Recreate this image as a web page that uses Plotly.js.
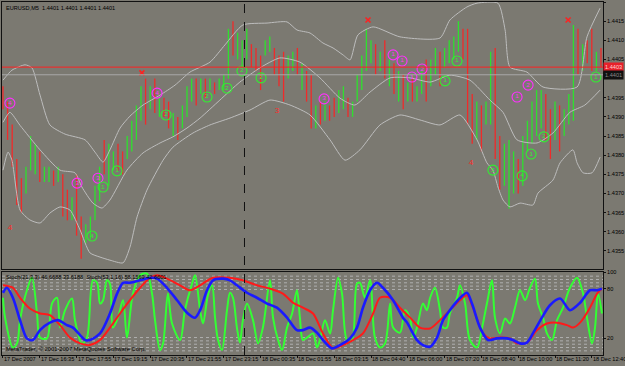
<!DOCTYPE html>
<html><head><meta charset="utf-8">
<script src="https://cdn.plot.ly/plotly-3.0.1.min.js"></script>
<style>html,body{margin:0;padding:0;background:#7a7870;}#chart{width:625px;height:366px;}</style>
</head><body><div id="chart"></div>
<script>
// ---- price bars (every second M5 bar) ----
const barIdx = [0,2,4,6,8,10,12,14,16,18,20,22,24,26,28,30,32,34,36,38,40,42,44,46,48,50,52,54,56,58,60,62,64,66,68,70,72,74,76,78,80,82,84,86,88,90,92,94,96,98,100,102,104,106,108,110,112,114,116,118,120,122,124,126,128,130,132,134,136,138,140,142,144,146,148,150,152,154,156,158,160,162,164,166,168,170,172,174,176,178,180,182,184,186,188,190,192,194,196,198,200,202,204,206,208,210,212,214,216,218,220,222,224,226,228,230,232,234,236,238,240,242,244,246,248,250,252,254,256,258,260];
const barHigh = [1.4398,1.4394,1.4388,1.4379,1.4374,1.4377,1.4385,1.4383,1.4381,1.4377,1.4377,1.4376,1.4377,1.4375,1.4371,1.4369,1.4375,1.4364,1.4362,1.4364,1.4372,1.4377,1.4384,1.4383,1.4381,1.4383,1.4381,1.4385,1.4389,1.4393,1.4398,1.4400,1.4398,1.4400,1.4395,1.4395,1.4394,1.4391,1.4390,1.4393,1.4398,1.4400,1.4400,1.4400,1.4400,1.4400,1.4399,1.4400,1.4401,1.4413,1.4415,1.4412,1.4410,1.4413,1.4409,1.4408,1.4406,1.4410,1.4411,1.4408,1.4406,1.4407,1.4406,1.4407,1.4408,1.4404,1.4402,1.4401,1.4393,1.4394,1.4394,1.4393,1.4395,1.4397,1.4398,1.4395,1.4394,1.4401,1.4406,1.4413,1.4410,1.4409,1.4407,1.4410,1.4405,1.4404,1.4402,1.4401,1.4399,1.4400,1.4398,1.4402,1.4405,1.4405,1.4408,1.4407,1.4408,1.4410,1.4411,1.4415,1.4413,1.4413,1.4396,1.4394,1.4393,1.4394,1.4407,1.4408,1.4385,1.4383,1.4384,1.4381,1.4379,1.4385,1.4389,1.4394,1.4397,1.4397,1.4396,1.4392,1.4394,1.4393,1.4392,1.4396,1.4414,1.4413,1.4409,1.4410,1.4413,1.4407,1.4408];
const barLow = [1.4392,1.4384,1.4377,1.4367,1.4365,1.4370,1.4376,1.4375,1.4373,1.4373,1.4373,1.4372,1.4373,1.4364,1.4363,1.4363,1.4359,1.4353,1.4357,1.4358,1.4363,1.4368,1.4375,1.4372,1.4376,1.4376,1.4375,1.4379,1.4381,1.4384,1.4389,1.4388,1.4392,1.4391,1.4390,1.4390,1.4387,1.4385,1.4384,1.4387,1.4390,1.4394,1.4393,1.4396,1.4395,1.4397,1.4396,1.4397,1.4397,1.4400,1.4406,1.4405,1.4403,1.4405,1.4403,1.4402,1.4397,1.4406,1.4407,1.4401,1.4398,1.4394,1.4400,1.4402,1.4401,1.4397,1.4394,1.4387,1.4387,1.4388,1.4389,1.4389,1.4390,1.4391,1.4392,1.4390,1.4390,1.4394,1.4397,1.4402,1.4404,1.4401,1.4402,1.4400,1.4398,1.4396,1.4394,1.4392,1.4394,1.4394,1.4394,1.4396,1.4394,1.4398,1.4401,1.4398,1.4403,1.4404,1.4405,1.4407,1.4405,1.4388,1.4383,1.4384,1.4381,1.4388,1.4388,1.4379,1.4371,1.4372,1.4366,1.4370,1.4370,1.4372,1.4381,1.4383,1.4385,1.4387,1.4384,1.4379,1.4384,1.4381,1.4385,1.4388,1.4389,1.4401,1.4402,1.4404,1.4402,1.4402,1.4403];
const barUp = [0,0,0,0,0,1,1,1,0,1,1,0,1,0,0,1,0,0,1,1,1,1,0,1,1,0,0,1,1,1,1,0,1,0,1,0,0,1,0,1,1,1,0,1,0,1,0,1,1,1,0,1,1,1,0,0,0,1,1,0,0,0,1,1,0,1,0,0,1,0,1,0,0,1,1,0,1,1,1,1,1,0,1,0,1,0,1,0,1,0,1,1,0,1,1,0,1,1,1,1,0,0,0,1,0,1,1,0,0,1,1,1,0,1,1,1,1,1,0,0,1,0,1,1,1,0,1,0,0,1,0];

// ---- Bollinger bands ----
const upperIdx = [0,3.9,9.6,12.6,16.1,20.4,27,35.7,40,43.5,46.5,50.9,55.2,60.9,68.3,74.8,81.3,90,96.5,104.3,114.8,123.5,127.8,133.5,139.1,143.5,147.8,150.9,154.3,160.9,172.6,190,194.3,201.7,206.1,215.2,218.3,220.4,227.8,234.8,249.6,253.9,259.6];
const upperVal = [1.43996,1.44022,1.44036,1.44028,1.43957,1.43879,1.43855,1.43840,1.43808,1.43782,1.43814,1.43871,1.43902,1.43931,1.43957,1.43983,1.44017,1.44043,1.44088,1.44140,1.44145,1.44148,1.44127,1.44119,1.44093,1.44080,1.44062,1.44049,1.44114,1.44135,1.44109,1.44106,1.44153,1.44187,1.44197,1.44197,1.44127,1.44030,1.44017,1.43978,1.43978,1.44109,1.44184];
const midIdx = [0,3,7.4,16.1,24.8,31.3,34.3,39.1,43,46.5,53.9,60.9,68.3,73.9,80,85.7,94.3,103,111.7,120.4,129.1,137.8,146.5,153,159.6,168.3,177,185.7,194.3,203,211.7,217.4,223.5,232.2,239.1,246.5,253,259.6];
const midVal = [1.43886,1.43912,1.43878,1.43814,1.43761,1.43754,1.43717,1.43675,1.43662,1.43683,1.43761,1.43806,1.43832,1.43848,1.43871,1.43897,1.43944,1.43991,1.44028,1.44054,1.44043,1.44002,1.43949,1.43931,1.43965,1.44002,1.44002,1.43991,1.44009,1.43996,1.43944,1.43912,1.43840,1.43832,1.43858,1.43912,1.43931,1.43970];
const lowerIdx = [0,2.2,3.9,7.4,11.7,16.1,20.4,24.8,29.1,33.5,37.8,42.2,46.5,52.2,55.2,58.3,62.6,69.6,73.9,82.6,90,98.7,107.4,116.1,124.8,133.5,142.2,148.7,155.2,163.9,172.6,181.3,190,198.7,206.1,210.4,213,215.2,217.4,220.4,224.8,230.4,232.6,239.1,242.2,247.8,249.6,252.2,256.1,259.6];
const lowerVal = [1.43761,1.43808,1.43787,1.43657,1.43631,1.43623,1.43649,1.43665,1.43657,1.43605,1.43545,1.43534,1.43526,1.43519,1.43560,1.43639,1.43709,1.43787,1.43821,1.43858,1.43879,1.43897,1.43918,1.43944,1.43931,1.43905,1.43840,1.43787,1.43814,1.43879,1.43905,1.43892,1.43879,1.43905,1.43840,1.43780,1.43761,1.43717,1.43683,1.43665,1.43675,1.43670,1.43701,1.43735,1.43780,1.43814,1.43780,1.43754,1.43754,1.43795];

// ---- indicator signs ----
const magIdx = [3,32.2,41.3,67,139.6,169.6,173.5,177.8,182.2,223.5,228.3];
const magVal = [1.43936,1.43727,1.43740,1.43962,1.43947,1.44062,1.44046,1.44004,1.44025,1.43952,1.43983];
const magTxt = ['4','3','3','4','3','1','1','1','2','1','2'];
const grnIdx = [38.7,43.5,49.6,70.9,88.7,97.4,103.9,112.2,192.2,197.4,213,225.7,229.6,235.2,257.8];
const grnVal = [1.43589,1.43717,1.43759,1.43905,1.43952,1.43975,1.44020,1.44002,1.43994,1.44046,1.43761,1.43746,1.43803,1.43848,1.44004];
const grnTxt = ['4','1','1','2','2','2','2','2','1','1','5','4','1','2','1'];
const crossIdx = [60.4,158.7,245.7];
const crossVal = [1.44015,1.44153,1.44153];
const redNumIdx = [3,119.1,203.5];
const redNumVal = [1.43610,1.43915,1.43780];
const redNumTxt = ['4','3','4'];
const askBid = [1.4403,1.4401];
const daySep = [105];

// ---- stochastic window ----
const gIdx = [0,0.9,4.3,6.1,7.4,10.4,12.6,14.8,16.1,19.1,21.3,23.5,24.8,27,30,31.3,34.3,36.5,39.1,40.9,42.2,43.5,45.2,46.5,47.8,50,52.2,53.9,56.5,59.6,62.6,64.8,66.1,68.3,69.6,71.7,73.5,77,79.1,82.2,83.5,85.7,87,89.1,90.9,92.2,93.5,95.2,97.4,98.7,100,101.7,103,104.3,106.1,108.7,110.9,113,116.1,117.4,119.6,121.3,123.5,125.7,127.8,129.1,130.4,132.2,134.8,136.5,137.8,140,142.2,143.5,145.7,147.4,149.6,151.7,153.9,155.2,157.4,159.6,161.7,163.9,166.1,168.3,169.6,172.6,174.8,177,178.3,180,182.6,184.3,185.7,187.8,190,191.3,193,194.3,197.4,198.7,200.9,203,206.1,208.3,210.4,212.6,213.9,216.1,218.3,220.4,222.6,224.8,227,229.1,231.3,232.6,234.8,236.5,238.7,240.9,243.5,246.5,249.6,252.2,253.9,256.1,257.4,258.7,260.4];
const gVal = [69,45,9,14,42,78,93,50,21,20,62,69,33,54,68,42,14,21,90,87,62,66,90,86,33,45,66,21,74,96,98,74,42,6,14,74,38,18,54,86,96,54,38,72,84,45,18,6,54,75,69,33,15,42,62,42,14,33,90,45,18,6,33,50,78,45,18,21,26,9,18,42,26,54,93,74,18,18,86,87,69,90,21,9,14,62,33,27,54,44,21,33,62,54,69,81,54,33,33,50,69,84,62,18,9,33,62,90,45,26,44,38,57,78,66,81,92,62,45,26,18,42,57,81,93,74,45,14,33,74,50];
const bIdx = [0,1.7,4.3,7.4,10.4,13,16.1,20.4,23.9,27.8,30.4,33.5,35.7,37.8,42.2,46.5,49.6,52.2,55.2,59.6,63.9,67,71.3,75.7,80,83.5,85.7,88.7,91.3,95.7,98.7,101.7,106.1,110.4,114.8,119.1,123.5,127.8,130.4,133.5,136.5,139.1,143,146.5,150.9,153.9,156.5,159.6,162.6,165.2,169.6,173.9,175.7,180,182.6,185.7,188.7,191.3,194.3,197.8,201.7,203.9,207.4,210.9,214.8,219.1,221.7,224.8,227.8,230.4,234.3,237.8,242.2,246.5,250.9,255.2,258.3,260.4];
const bVal = [75,81,69,42,20,18,30,39,42,36,33,24,18,18,26,50,74,87,87,90,93,92,81,66,51,45,54,78,90,92,90,84,75,69,62,57,45,30,30,33,27,18,8,12,20,33,57,78,87,81,66,45,39,18,12,10,21,42,54,66,75,62,33,18,20,20,18,14,15,26,45,60,68,54,63,78,78,80];
const rIdx = [0,4.3,7.4,11.7,16.1,20.4,24.8,29.1,33.5,37.8,42.2,46.5,50.9,55.2,59.6,63.9,67,71.3,77,81.3,85.7,91.3,98.7,104.3,110.4,116.1,121.7,126.1,130.4,134.8,139.1,143.5,147.8,152.2,156.5,160.9,163.9,168.3,172.6,177,181.3,185.7,190,194.3,198.7,201.7,204.3,208.7,211.7,216.1,220.4,223.5,227.8,232.2,236.5,240.9,245.2,247.8,250.9,255.2,258.3,260.4];
const rVal = [84,81,69,56,50,48,36,21,14,12,18,33,50,66,81,93,96,92,84,78,84,93,93,90,84,80,74,63,57,50,26,8,12,18,26,50,69,69,57,45,33,32,42,54,66,72,57,26,20,21,20,14,15,30,38,39,36,33,39,57,74,80];
const stochLevels = [95,91,87,83,79,21,17,13,9,5];

// ---- axis labels ----
const priceTicks = [1.4355,1.4360,1.4365,1.4370,1.4375,1.4380,1.4385,1.4390,1.4395,1.4405,1.4410,1.4415,1.4420];
const stochTicks = [100,80,20];
const timeTickIdx = [0,16,32,48,64,80,96,112,128,144,160,176,192,208,224,240,256];
const timeTickText = ['17 Dec 2007','17 Dec 16:35','17 Dec 17:55','17 Dec 19:15','17 Dec 20:35','17 Dec 21:55','17 Dec 23:15','18 Dec 00:35','18 Dec 01:55','18 Dec 03:15','18 Dec 04:40','18 Dec 06:00','18 Dec 07:20','18 Dec 08:40','18 Dec 10:00','18 Dec 11:20','18 Dec 12:40'];

const FONT = 'Liberation Sans, Arial, sans-serif';
const BG = '#7b7971';
const traces = [];
function barTrace(flag, color){
  const xs=[], ys=[];
  for(let k=0;k<barIdx.length;k++){ if(barUp[k]===flag){ xs.push(barIdx[k],barIdx[k],null); ys.push(barLow[k],barHigh[k],null);} }
  return {type:'scatter',mode:'lines',x:xs,y:ys,xaxis:'x',yaxis:'y',line:{color:color,width:1.3},hoverinfo:'skip',showlegend:false};
}
traces.push(barTrace(1,'#2ee02e'));
traces.push(barTrace(0,'#f02a2a'));
[[upperIdx,upperVal],[midIdx,midVal],[lowerIdx,lowerVal]].forEach(b=>{
  traces.push({type:'scatter',mode:'lines',x:b[0],y:b[1],xaxis:'x',yaxis:'y',line:{color:'#bdbdbd',width:1,shape:'spline',smoothing:0.6},hoverinfo:'skip',showlegend:false});
});
traces.push({type:'scatter',mode:'markers+text',x:magIdx,y:magVal,text:magTxt,textposition:'middle center',textfont:{family:FONT,size:6,color:'#ff30ff'},marker:{symbol:'circle-open',size:10,color:'#ff30ff',line:{width:1.1}},xaxis:'x',yaxis:'y',showlegend:false,hoverinfo:'skip',cliponaxis:false});
traces.push({type:'scatter',mode:'markers+text',x:grnIdx,y:grnVal,text:grnTxt,textposition:'middle center',textfont:{family:FONT,size:6,color:'#30f030'},marker:{symbol:'circle-open',size:10,color:'#30f030',line:{width:1.1}},xaxis:'x',yaxis:'y',showlegend:false,hoverinfo:'skip',cliponaxis:false});
traces.push({type:'scatter',mode:'markers',x:crossIdx,y:crossVal,marker:{symbol:'x-thin-open',size:5,color:'#ff2020',line:{width:1.5,color:'#ff2020'}},xaxis:'x',yaxis:'y',showlegend:false,hoverinfo:'skip'});
traces.push({type:'scatter',mode:'text',x:redNumIdx,y:redNumVal,text:redNumTxt,textfont:{family:FONT,size:8,color:'#ff2a2a'},xaxis:'x',yaxis:'y',showlegend:false,hoverinfo:'skip'});
traces.push({type:'scatter',mode:'lines',x:gIdx,y:gVal,xaxis:'x2',yaxis:'y2',line:{color:'#33ff33',width:2,shape:'spline',smoothing:0.9},hoverinfo:'skip',showlegend:false});
traces.push({type:'scatter',mode:'lines',x:rIdx,y:rVal,xaxis:'x2',yaxis:'y2',line:{color:'#ff1a1a',width:2,shape:'spline',smoothing:0.8},hoverinfo:'skip',showlegend:false});
traces.push({type:'scatter',mode:'lines',x:bIdx,y:bVal,xaxis:'x2',yaxis:'y2',line:{color:'#1a1aff',width:2.6,shape:'spline',smoothing:0.8},hoverinfo:'skip',showlegend:false});

const shapes = [];
stochLevels.forEach(v=>shapes.push({type:'line',xref:'x2 domain',yref:'y2',x0:0,x1:1,y0:v,y1:v,line:{color:'#b0b0b0',width:1,dash:'dot'},layer:'below'}));
shapes.push({type:'line',xref:'x domain',yref:'y',x0:0,x1:1,y0:askBid[0],y1:askBid[0],line:{color:'#ff2020',width:1}});
shapes.push({type:'line',xref:'x domain',yref:'y',x0:0,x1:1,y0:askBid[1],y1:askBid[1],line:{color:'#a8a8a8',width:1}});
daySep.forEach(d=>shapes.push({type:'line',xref:'x',yref:'paper',x0:d,x1:d,y0:0,y1:1,line:{color:'#111',width:1,dash:'dash'}}));

const annotations = [];
timeTickIdx.forEach((t,i)=>annotations.push({xref:'x2',yref:'paper',x:t,y:0,xanchor:'left',yanchor:'top',yshift:0,xshift:0,text:timeTickText[i],showarrow:false,font:{family:FONT,size:5.6,color:'#000'},borderpad:0}));
annotations.push({xref:'paper',yref:'y',x:1,y:askBid[0],xanchor:'left',yanchor:'middle',xshift:0,text:askBid[0].toFixed(4),showarrow:false,bgcolor:'#e8202a',font:{family:FONT,size:5.6,color:'#ffd0d0'},borderpad:1});
annotations.push({xref:'paper',yref:'y',x:1,y:askBid[1],xanchor:'left',yanchor:'middle',xshift:0,text:askBid[1].toFixed(4),showarrow:false,bgcolor:'#111',font:{family:FONT,size:5.6,color:'#888'},borderpad:1});
annotations.push({xref:'paper',yref:'paper',x:0,y:1,xanchor:'left',yanchor:'top',xshift:3,yshift:-2,text:'EURUSD,M5  1.4401 1.4401 1.4401 1.4401',showarrow:false,font:{family:FONT,size:5.6,color:'#000'},borderpad:0});
annotations.push({xref:'paper',yref:'paper',x:0,y:0.2351,xanchor:'left',yanchor:'top',xshift:3,yshift:-1,text:'Stoch(21,3,3) 46.6688 33.6188  Stoch(53,1,16) 58.1569 42.6601',showarrow:false,font:{family:FONT,size:5.6,color:'#000'},borderpad:0});
annotations.push({xref:'paper',yref:'paper',x:0,y:0,xanchor:'left',yanchor:'bottom',xshift:3,yshift:2,text:'MetaTrader, © 2001-2007 MetaQuotes Software Corp.',showarrow:false,font:{family:FONT,size:5.8,color:'#000'},borderpad:0});

const layout = {
  width:625,height:366,margin:{l:2,r:22,t:2,b:11},
  paper_bgcolor:BG,plot_bgcolor:BG,showlegend:false,
  xaxis:{domain:[0,1],range:[-0.43,260.87],anchor:'y',showticklabels:false,showgrid:false,zeroline:false,showline:true,mirror:true,linecolor:'#111',linewidth:1,ticks:''},
  xaxis2:{domain:[0,1],range:[-0.43,260.87],anchor:'y2',matches:'x',tickvals:timeTickIdx,showticklabels:false,ticks:'outside',ticklen:2,tickcolor:'#111',showgrid:false,zeroline:false,showline:true,mirror:true,linecolor:'#111',linewidth:1},
  yaxis:{domain:[0.2436,1],range:[1.435029,1.44200],side:'right',tickvals:priceTicks,tickformat:'.4f',ticks:'outside',ticklen:2,tickcolor:'#111',tickfont:{family:FONT,size:5.6,color:'#000'},showgrid:false,zeroline:false,showline:true,mirror:true,linecolor:'#111',linewidth:1},
  yaxis2:{domain:[0,0.2351],range:[0,100],side:'right',tickvals:stochTicks,ticks:'outside',ticklen:2,tickcolor:'#111',tickfont:{family:FONT,size:5.6,color:'#000'},showgrid:false,zeroline:false,showline:true,mirror:true,linecolor:'#111',linewidth:1},
  shapes:shapes,annotations:annotations
};
Plotly.newPlot('chart',traces,layout,{staticPlot:true,displayModeBar:false});
</script></body></html>
